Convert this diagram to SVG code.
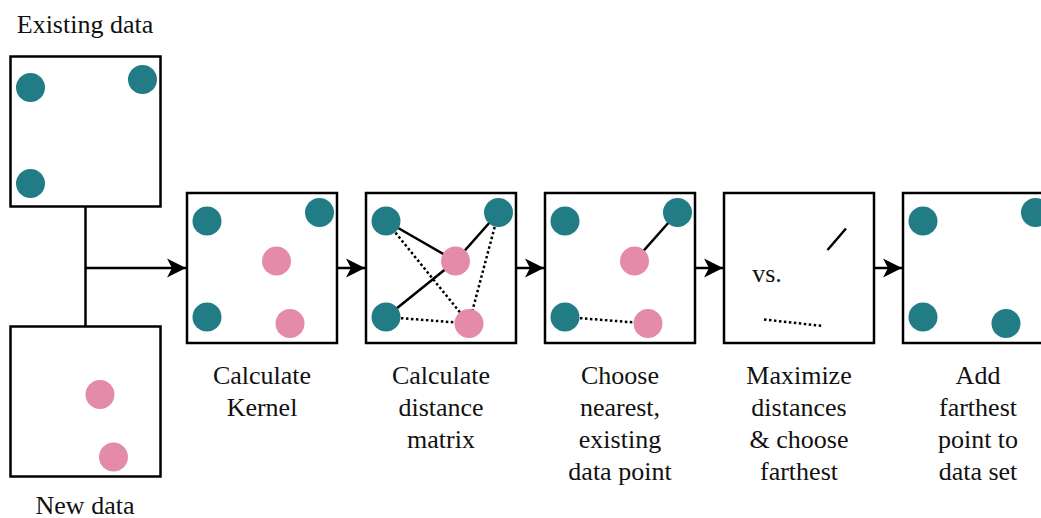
<svg xmlns="http://www.w3.org/2000/svg" width="1041" height="518" viewBox="0 0 1041 518">
  <style>
    .box { fill: #ffffff; stroke: #000000; stroke-width: 2.5; }
    .old { fill: #217c85; }
    .new { fill: #e38ba8; }
    .solid { stroke: #000000; stroke-width: 2.5; fill: none; }
    .dot { stroke: #000000; stroke-width: 2.5; fill: none; stroke-dasharray: 2.5 2.5; }
    .flow { stroke: #000000; stroke-width: 2.5; fill: none; }
    text { font-family: "Liberation Serif", "Times New Roman", serif; font-size: 26px; fill: #111111; text-anchor: middle; }
  </style>
  <defs>
    <marker id="head" markerUnits="userSpaceOnUse" markerWidth="22" markerHeight="22" refX="20" refY="11" orient="auto">
      <path d="M1,1.5 L20,11 L1,20.5 L6,11 Z" fill="#000000"/>
    </marker>
  </defs>
  <rect width="1041" height="518" fill="#ffffff"/>

  <!-- connectors -->
  <g id="connectors">
    <path class="flow" d="M85.5,207 V326"/>
    <path class="flow" d="M85.5,268 H186" marker-end="url(#head)"/>
    <path class="flow" d="M337,268 H365" marker-end="url(#head)"/>
    <path class="flow" d="M516,268 H544" marker-end="url(#head)"/>
    <path class="flow" d="M695,268 H723" marker-end="url(#head)"/>
    <path class="flow" d="M874,268 H902" marker-end="url(#head)"/>
  </g>

  <!-- existing data -->
  <g id="existing-data">
    <text x="85" y="33">Existing data</text>
    <rect class="box" x="10.5" y="56.5" width="150" height="150"/>
    <circle class="old" cx="30.5" cy="87.5" r="14.5"/>
    <circle class="old" cx="142.5" cy="79.5" r="14.5"/>
    <circle class="old" cx="30.5" cy="183.5" r="14.5"/>
  </g>

  <!-- new data -->
  <g id="new-data">
    <rect class="box" x="10.5" y="326.5" width="150" height="150"/>
    <circle class="new" cx="100" cy="394.5" r="14.5"/>
    <circle class="new" cx="113.5" cy="457" r="14.5"/>
    <text x="85" y="514">New data</text>
  </g>

  <!-- step 1: kernel -->
  <g id="step-kernel">
    <rect class="box" x="187" y="193" width="150" height="150"/>
    <circle class="old" cx="207" cy="221" r="14.5"/>
    <circle class="old" cx="319.5" cy="212.5" r="14.5"/>
    <circle class="new" cx="276.5" cy="261" r="14.5"/>
    <circle class="old" cx="207" cy="317" r="14.5"/>
    <circle class="new" cx="290" cy="323.5" r="14.5"/>
    <text x="262" y="384">Calculate</text>
    <text x="262" y="416">Kernel</text>
  </g>

  <!-- step 2: distance matrix -->
  <g id="step-distance">
    <rect class="box" x="366" y="193" width="150" height="150"/>
    <path class="solid" d="M386,221 L455.5,261 M386,317 L455.5,261 L498.5,212.5"/>
    <path class="dot" d="M386,221 L469,323.5 M498.5,212.5 L469,323.5 M386,317 L469,323.5"/>
    <circle class="old" cx="386" cy="221" r="14.5"/>
    <circle class="old" cx="498.5" cy="212.5" r="14.5"/>
    <circle class="new" cx="455.5" cy="261" r="14.5"/>
    <circle class="old" cx="386" cy="317" r="14.5"/>
    <circle class="new" cx="469" cy="323.5" r="14.5"/>
    <text x="441" y="384">Calculate</text>
    <text x="441" y="416">distance</text>
    <text x="441" y="448">matrix</text>
  </g>

  <!-- step 3: nearest existing point -->
  <g id="step-nearest">
    <rect class="box" x="545" y="193" width="150" height="150"/>
    <path class="solid" d="M634.5,261 L677.5,212.5"/>
    <path class="dot" d="M565,317 L648,323.5"/>
    <circle class="old" cx="565" cy="221" r="14.5"/>
    <circle class="old" cx="677.5" cy="212.5" r="14.5"/>
    <circle class="new" cx="634.5" cy="261" r="14.5"/>
    <circle class="old" cx="565" cy="317" r="14.5"/>
    <circle class="new" cx="648" cy="323.5" r="14.5"/>
    <text x="620" y="384">Choose</text>
    <text x="620" y="416">nearest,</text>
    <text x="620" y="448">existing</text>
    <text x="620" y="480">data point</text>
  </g>

  <!-- step 4: maximize distances -->
  <g id="step-maximize">
    <rect class="box" x="724" y="193" width="150" height="150"/>
    <path class="solid" d="M827.5,250 L846,228.5"/>
    <text x="767" y="282">vs.</text>
    <path class="dot" d="M764,319.5 L823,326"/>
    <text x="799" y="384">Maximize</text>
    <text x="799" y="416">distances</text>
    <text x="799" y="448">&amp; choose</text>
    <text x="799" y="480">farthest</text>
  </g>

  <!-- step 5: add farthest point -->
  <g id="step-add">
    <rect class="box" x="903" y="193" width="150" height="150"/>
    <circle class="old" cx="923" cy="221" r="14.5"/>
    <circle class="old" cx="1035.5" cy="212.5" r="14.5"/>
    <circle class="old" cx="923" cy="317" r="14.5"/>
    <circle class="old" cx="1006" cy="323.5" r="14.5"/>
    <text x="978" y="384">Add</text>
    <text x="978" y="416">farthest</text>
    <text x="978" y="448">point to</text>
    <text x="978" y="480">data set</text>
  </g>
</svg>
